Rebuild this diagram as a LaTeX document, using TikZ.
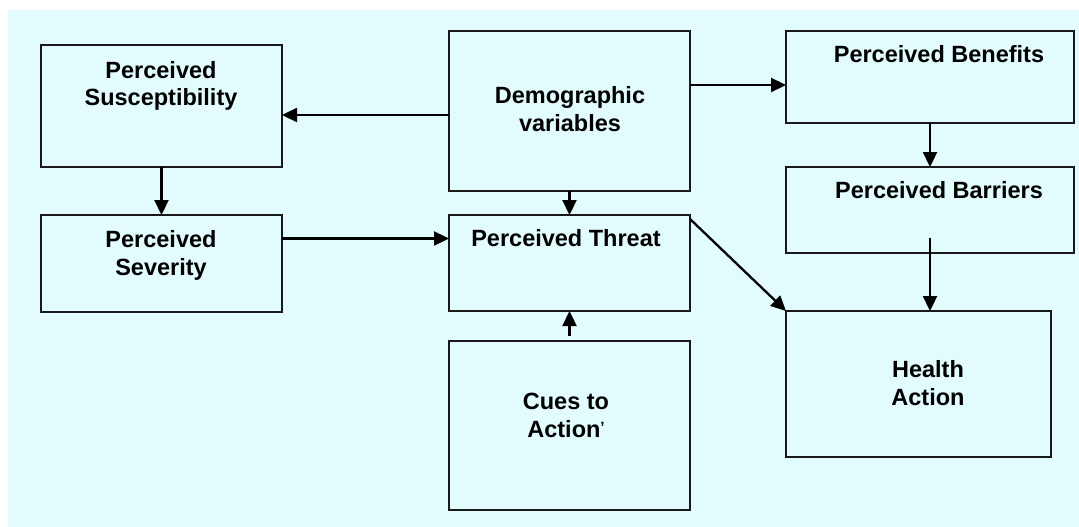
\documentclass[tikz,border=0pt]{standalone}
\usepackage{fontspec}
\setmainfont{Liberation Sans}
\usetikzlibrary{arrows.meta}
\definecolor{bgcyan}{RGB}{226,251,253}
\definecolor{edge}{RGB}{25,25,25}
\tikzset{
  box/.style={draw=edge, line width=2.5pt, rectangle, anchor=north west,
              inner sep=0pt, outer sep=0pt},
  lbl/.style={font=\bfseries\fontsize{23.5}{27.5}\selectfont, align=center,
              anchor=base, inner sep=0pt, text=black},
  arr/.style={draw=black, line width=2.3pt, -{Triangle[length=15pt,width=14pt]}},
}
\begin{document}
\begin{tikzpicture}[x=1pt, y=-1pt]
  % canvas: white margin on top and left, pale cyan field
  \useasboundingbox (0,0) rectangle (1079,527);
  \fill[white] (0,0) rectangle (1079,527);
  \fill[bgcyan] (8,10) rectangle (1079,527);

  % boxes
  \node[box, minimum width=241pt, minimum height=122pt] (susc)   at (41,45)   {};
  \node[box, minimum width=241pt, minimum height=97pt]  (sev)    at (41,215)  {};
  \node[box, minimum width=241pt, minimum height=160pt] (demo)   at (449,31)  {};
  \node[box, minimum width=241pt, minimum height=96pt]  (threat) at (449,215) {};
  \node[box, minimum width=241pt, minimum height=169pt] (cues)   at (449,341) {};
  \node[box, minimum width=288pt, minimum height=92pt]  (ben)    at (786,31)  {};
  \node[box, minimum width=288pt, minimum height=86pt]  (bar)    at (786,167) {};
  \node[box, minimum width=265pt, minimum height=146pt] (health) at (786,311) {};

  % labels (base anchor sits on the last line's baseline)
  \node[lbl] (suscT)   at (161,106) {Perceived\\Susceptibility};
  \node[lbl] (sevT)    at (161,275) {Perceived\\Severity};
  \node[lbl] (demoT)   at (570,131) {Demographic\\variables};
  \node[lbl] (threatT) at (566,246) {Perceived Threat};
  \node[lbl] (cuesT)   at (566,437) {Cues to\\Action\raisebox{5pt}{\fontsize{15}{15}\selectfont\char"0027}};
  \node[lbl] (benT)    at (939,63)  {Perceived Benefits};
  \node[lbl] (barT)    at (939,198) {Perceived Barriers};
  \node[lbl] (healthT) at (928,405) {Health\\Action};

  % connectors
  \draw[arr] ([yshift=-4pt]demo.west) -- ([yshift=-4pt]demo.west -| susc.east);
  \draw[arr] (susc.south) -- (sev.north);
  \draw[arr] ([yshift=25pt]sev.east) -- ([yshift=25pt]sev.east -| threat.west);
  \draw[arr] (demo.south) -- (threat.north);
  \draw[arr] ([yshift=5pt]cues.north) -- (threat.south);
  \draw[arr] ([yshift=26pt]demo.east) -- ([yshift=26pt]demo.east -| ben.west);
  \draw[arr] (ben.south -| 930,0) -- (bar.north -| 930,0);
  \draw[arr] ([yshift=15pt]bar.south -| 930,0) -- (health.north -| 930,0);
  \draw[arr] ([yshift=-4pt]threat.north east) -- (health.north west);
\end{tikzpicture}
\end{document}
